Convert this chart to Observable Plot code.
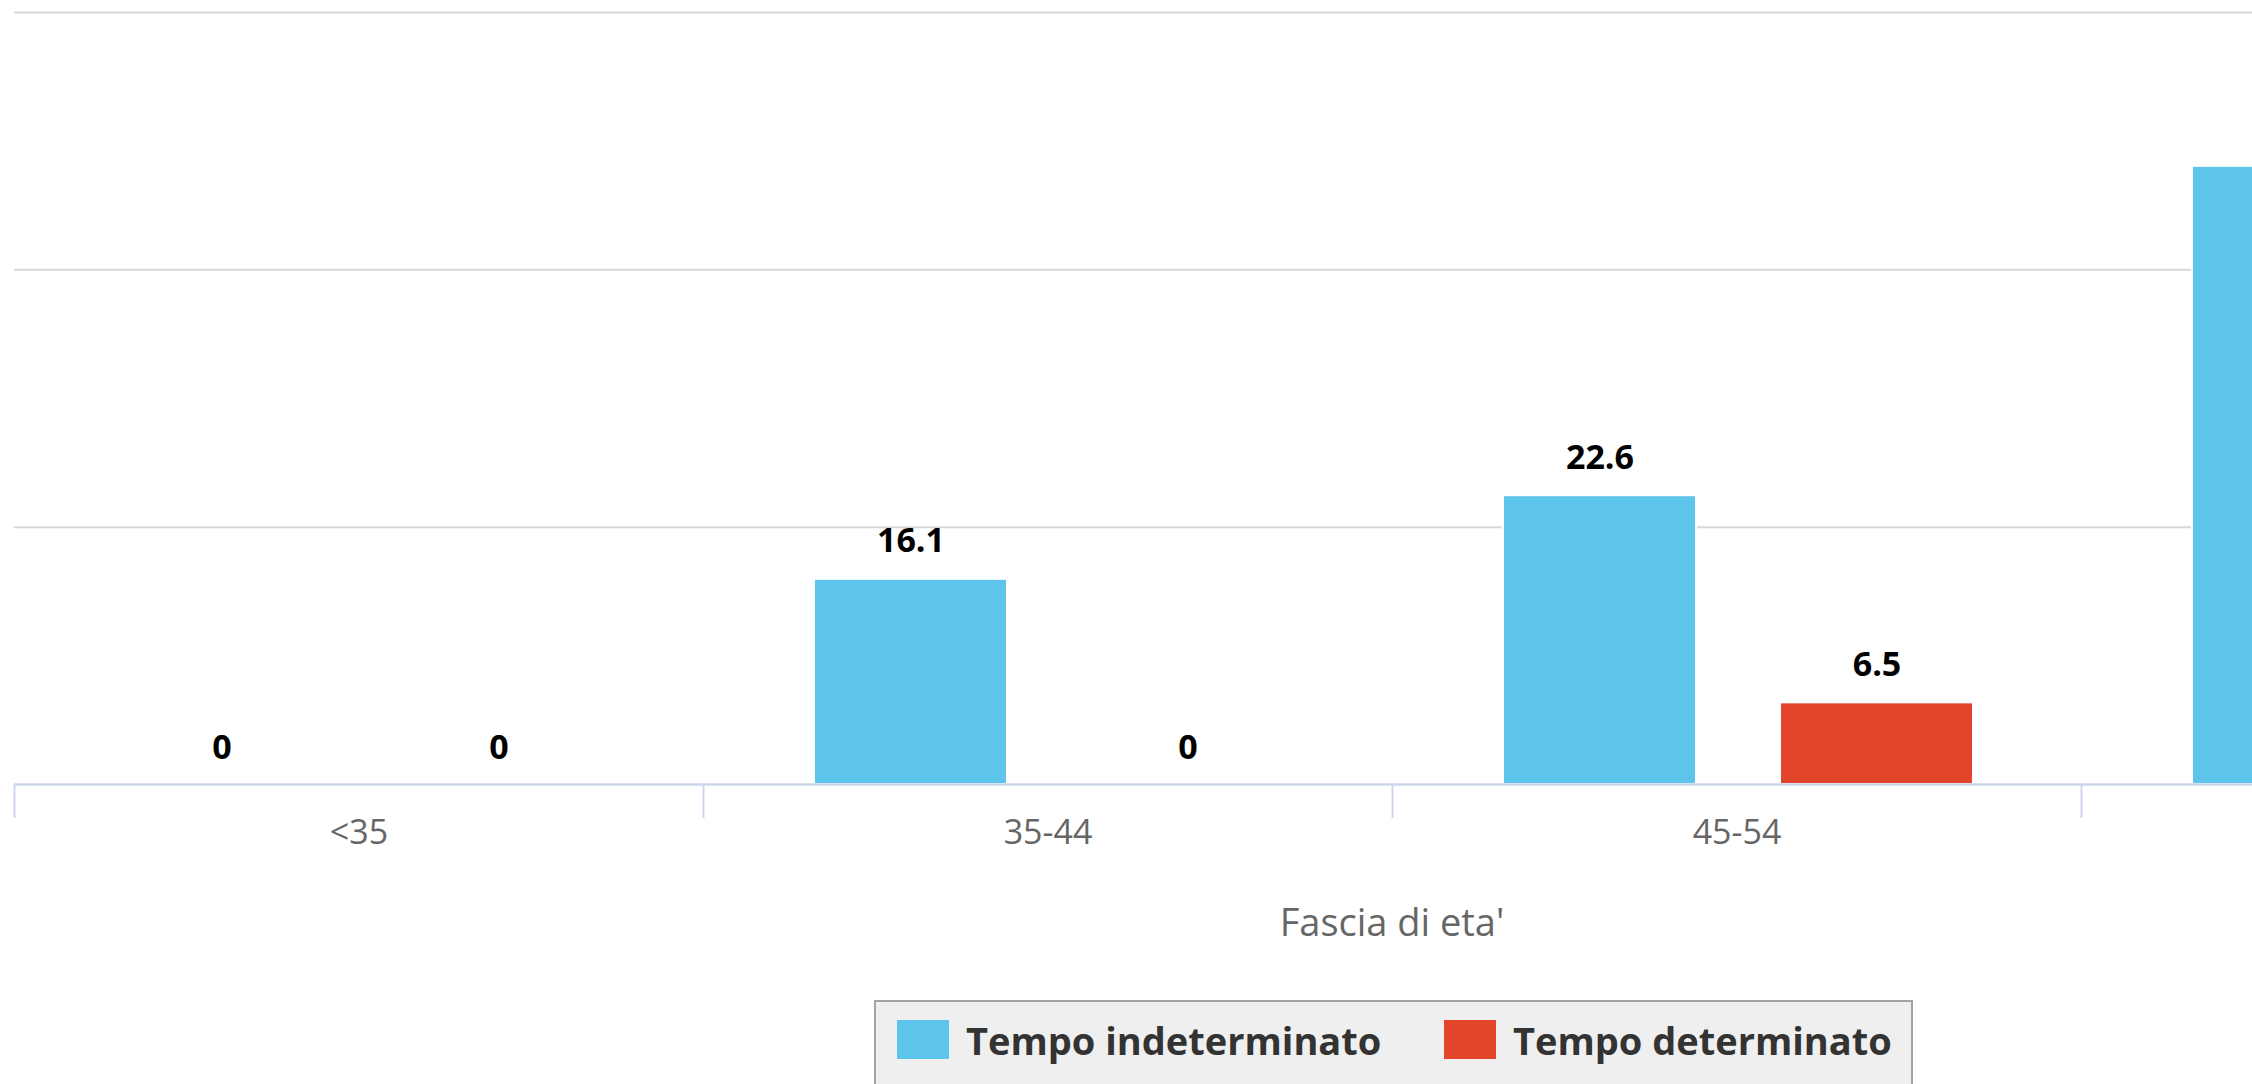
<!DOCTYPE html>
<html>
<head>
<meta charset="utf-8">
<script src="https://cdn.jsdelivr.net/npm/d3@7"></script>
<script src="https://cdn.jsdelivr.net/npm/@observablehq/plot@0.6"></script>
<style>
html, body { margin: 0; padding: 0; background: #fff; overflow: hidden; width: 2252px; height: 1084px; }
#wrap { position: relative; width: 2784px; height: 1084px; font-family: "Open Sans", sans-serif; }
#chart { position: absolute; left: 0; top: 0; }
#title { position: absolute; left: 0; top: 902px; width: 2784px; text-align: center; font-size: 38px; line-height: 1; color: #666; }
#legend { position: absolute; left: 874px; top: 1000px; width: 1035px; height: 140px; background: #efefef; border: 2px solid #a3a3a3; }
.sw { position: absolute; top: 18px; width: 52px; height: 39px; }
.lt { position: absolute; top: 19px; font-size: 38px; font-weight: 700; color: #333; line-height: 1; white-space: nowrap; }
</style>
</head>
<body>
<div id="wrap">
  <div id="chart"></div>
  <div id="title"></div>
  <div id="legend"></div>
</div>
<script>
// ---- data ----
const categories = ["<35", "35-44", "45-54", "55+"];
const seriesNames = ["Tempo indeterminato", "Tempo determinato"];
const indeterminato = [0, 16.1, 22.6, 48.2];
const determinato = [0, 0, 6.5, null];
const gridValues = [20, 40, 60];
const xTitle = "Fascia di eta'";
const colors = ["#5dc4eb", "#e3452a"];

// ---- layout ----
const W = 2784, H = 870, mL = 14, mR = 14, mT = 12, mB = 86;
const band = (W - mL - mR) / categories.length;
const plotH = H - mT - mB;

const rowsInd = categories.map((c, i) => ({cat: c, v: indeterminato[i]})).filter(d => d.v != null);
const rowsDet = categories.map((c, i) => ({cat: c, v: determinato[i]})).filter(d => d.v != null);

const labelStyle = {fontSize: 34, fontWeight: "bold", fill: "#000", fontFamily: "Open Sans"};

const chart = Plot.plot({
  width: W,
  height: H,
  marginLeft: mL,
  marginRight: mR,
  marginTop: mT,
  marginBottom: mB,
  style: {fontFamily: "Open Sans", fontSize: "34px", color: "#666", background: "transparent"},
  x: {domain: categories, padding: 0, tickSize: 0, tickPadding: 35, label: null},
  y: {domain: [0, 60], axis: null},
  marks: [
    Plot.ruleY(gridValues, {stroke: "#d8d8d8", strokeWidth: 2}),
    Plot.barY(rowsInd, {x: "cat", y: "v", fill: colors[0], stroke: "#fff", strokeWidth: 2, insetLeft: 111, insetRight: 385, insetTop: 2}),
    Plot.barY(rowsDet, {x: "cat", y: "v", fill: colors[1], stroke: "#fff", strokeWidth: 2, insetLeft: 388, insetRight: 108, insetTop: 2}),
    Plot.ruleY([0], {stroke: "#ccd6eb", strokeWidth: 2.5}),
    Plot.ruleX(categories, {x: d => d, dx: -band / 2, stroke: "#ccd6eb", strokeWidth: 2, insetTop: plotH, insetBottom: -34}),
    Plot.text(rowsInd, {x: "cat", y: "v", text: d => String(d.v), dx: -137, dy: -36, ...labelStyle}),
    Plot.text(rowsDet, {x: "cat", y: "v", text: d => String(d.v), dx: 140, dy: -36, ...labelStyle})
  ]
});
document.getElementById("chart").appendChild(chart);

document.getElementById("title").textContent = xTitle;

const legend = document.getElementById("legend");
const swLeft = [21, 568], txtLeft = [90, 637];
seriesNames.forEach((name, i) => {
  const sw = document.createElement("div");
  sw.className = "sw";
  sw.style.left = swLeft[i] + "px";
  sw.style.background = colors[i];
  legend.appendChild(sw);
  const t = document.createElement("div");
  t.className = "lt";
  t.style.left = txtLeft[i] + "px";
  t.textContent = name;
  legend.appendChild(t);
});
</script>
</body>
</html>
